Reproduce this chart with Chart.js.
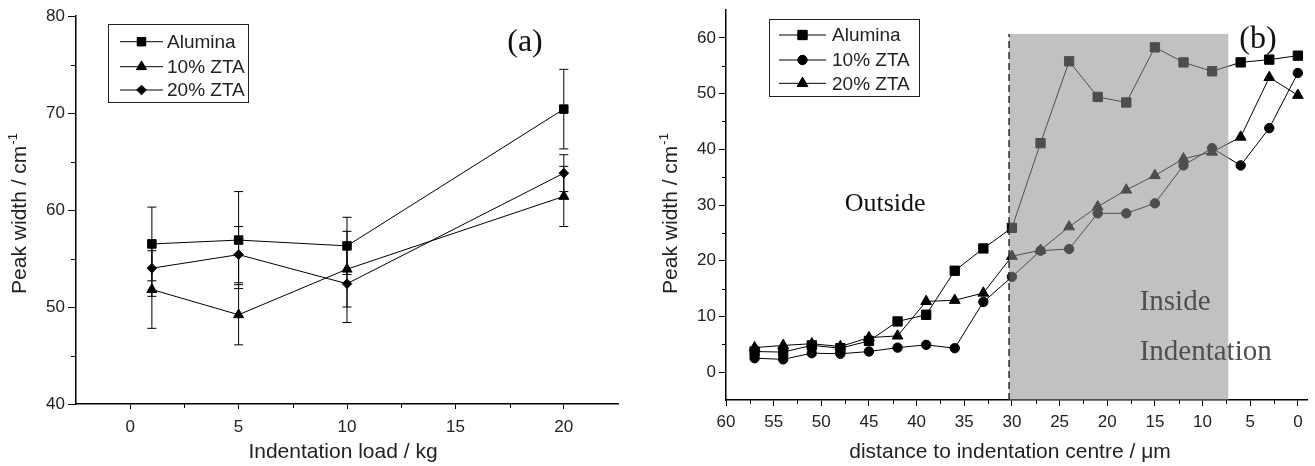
<!DOCTYPE html>
<html>
<head>
<meta charset="utf-8">
<script src="https://cdn.jsdelivr.net/npm/chart.js@4.4.0/dist/chart.umd.min.js"></script>
<style>
  html, body { margin: 0; padding: 0; background: #fff; }
  #wrap { position: relative; width: 1315px; height: 466px; }
  #chartA { position: absolute; left: 0; top: 0; }
  #chartB { position: absolute; left: 650px; top: 0; }
</style>
</head>
<body>
<div id="wrap">
  <canvas id="chartA" width="650" height="466"></canvas>
  <canvas id="chartB" width="665" height="466"></canvas>
</div>
<script>
// ---- panel (a): peak width vs indentation load ----
var loadKg = [1, 5, 10, 20];
var aluminaA = [56.5, 56.9, 56.3, 70.4];
var aluminaAErr = [3.8, 5.0, 2.95, 4.1];
var zta10A = [51.8, 49.2, 53.9, 61.4];
var zta10AErr = [4.0, 3.1, 3.9, 3.1];
var zta20A = [54.0, 55.4, 52.4, 63.8];
var zta20AErr = [2.9, 2.9, 4.0, 1.9];
var xTicksA = [-2.5, 0, 2.5, 5, 7.5, 10, 12.5, 15, 17.5, 20, 22.5];
var yTicksA = [40, 45, 50, 55, 60, 65, 70, 75, 80];

// ---- panel (b): peak width vs distance to indentation centre ----
var distUm = [57, 54, 51, 48, 45, 42, 39, 36, 33, 30, 27, 24, 21, 18, 15, 12, 9, 6, 3, 0];
var aluminaB = [3.7, 3.6, 4.8, 4.3, 5.6, 9.1, 10.3, 18.2, 22.2, 25.9, 41.1, 55.8, 49.4, 48.4, 58.3, 55.6, 54.0, 55.6, 56.1, 56.8];
var zta10B = [2.5, 2.3, 3.4, 3.3, 3.7, 4.4, 4.9, 4.3, 12.6, 17.1, 21.8, 22.1, 28.5, 28.5, 30.3, 37.1, 40.2, 37.1, 43.8, 53.7];
var zta20B = [4.4, 4.8, 5.1, 4.6, 6.2, 6.5, 12.7, 12.9, 14.2, 20.8, 21.9, 26.1, 29.7, 32.7, 35.3, 38.3, 39.5, 42.2, 52.9, 49.7];
var xTicksB = [];
for (var t = 0; t <= 60; t += 2.5) xTicksB.push(t);
var yTicksB = [-5, 0, 5, 10, 15, 20, 25, 30, 35, 40, 45, 50, 55, 60, 65];
var insideFrom = 30.3, insideTo = 7.3, insideTop = 60.7;

var SANS = '"Liberation Sans", Arial, sans-serif';
var SERIF = '"Liberation Serif", "Times New Roman", serif';

function drawMarker(ctx, style, r, x, y) {
  ctx.fillStyle = '#000';
  ctx.strokeStyle = '#000';
  ctx.lineWidth = 1;
  Chart.helpers.drawPoint(ctx, {pointStyle: style, radius: r, rotation: 0, borderWidth: 1}, x, y);
  ctx.fill();
}

function isMajor(v, opts) {
  return v % opts.major === 0 && v >= opts.lo && v <= opts.hi;
}

function makeScale(opts) {
  return {
    type: 'linear',
    min: opts.min,
    max: opts.max,
    reverse: !!opts.reverse,
    minorLength: opts.minorLength,
    afterBuildTicks: function (s) {
      s.ticks = opts.ticks.map(function (v) { return {value: v}; });
    },
    afterFit: function (s) {
      if (opts.width) s.width = opts.width;
      if (opts.height) s.height = opts.height;
      s.paddingLeft = 0; s.paddingRight = 0; s.paddingTop = 0; s.paddingBottom = 0;
    },
    ticks: {
      autoSkip: false,
      maxRotation: 0,
      padding: opts.padding,
      color: '#222',
      font: {family: SANS, size: 17},
      callback: function (v) { return isMajor(v, opts) ? v : ''; }
    },
    grid: {
      drawOnChartArea: false,
      drawTicks: true,
      tickLength: opts.tickLength,
      tickColor: function (c) {
        return c.tick && isMajor(c.tick.value, opts) ? '#000' : 'rgba(0,0,0,0)';
      },
      color: '#000'
    },
    border: {color: '#000', width: 1.5}
  };
}

// shorter minor ticks
var minorTickPlugin = {
  id: 'minorTicks',
  afterDraw: function (chart) {
    var ctx = chart.ctx;
    var area = chart.chartArea;
    ctx.save();
    ctx.strokeStyle = '#000';
    ctx.lineWidth = 1;
    ['x', 'y'].forEach(function (id) {
      var s = chart.scales[id];
      var len = s.options.minorLength;
      s.ticks.forEach(function (tk) {
        if (tk.label !== '') return;
        var p = Math.round(s.getPixelForValue(tk.value)) + 0.5;
        ctx.beginPath();
        if (id === 'x') {
          if (p < area.left + 1 || p > area.right - 1) return;
          ctx.moveTo(p, area.bottom);
          ctx.lineTo(p, area.bottom + len);
        } else {
          if (p > area.bottom - 1 || p < area.top + 1) return;
          ctx.moveTo(area.left, p);
          ctx.lineTo(area.left - len, p);
        }
        ctx.stroke();
      });
    });
    ctx.restore();
  }
};

function lineSet(label, data, style, r) {
  return {
    label: label,
    data: data,
    showLine: true,
    borderColor: '#000',
    backgroundColor: '#000',
    borderWidth: 1,
    pointStyle: style,
    pointRadius: r,
    pointHoverRadius: r,
    pointBackgroundColor: '#000',
    pointBorderColor: '#000',
    pointBorderWidth: 1,
    tension: 0,
    fill: false
  };
}

function toXY(xs, ys) {
  return xs.map(function (x, i) { return {x: x, y: ys[i]}; });
}

function titlesPlugin(xText, xCenter, yCenterX, yCenterY) {
  return {
    id: 'titles',
    afterDraw: function (chart) {
      var ctx = chart.ctx;
      ctx.save();
      ctx.fillStyle = '#222';
      ctx.textBaseline = 'middle';
      ctx.textAlign = 'center';
      ctx.font = '21px ' + SANS;
      ctx.fillText(xText, xCenter, 452);

      // y title with superscript
      var main = 'Peak width / cm';
      var sup = '-1';
      ctx.font = '21px ' + SANS;
      var wMain = ctx.measureText(main).width;
      ctx.font = '13px ' + SANS;
      var wSup = ctx.measureText(sup).width;
      var total = wMain + wSup;
      ctx.translate(yCenterX, yCenterY);
      ctx.rotate(-Math.PI / 2);
      ctx.textAlign = 'left';
      ctx.font = '21px ' + SANS;
      ctx.fillText(main, -total / 2, 0);
      ctx.font = '13px ' + SANS;
      ctx.fillText(sup, -total / 2 + wMain + 1, -7);
      ctx.restore();
    }
  };
}

function legendPlugin(box, rows) {
  return {
    id: 'boxLegend',
    afterDraw: function (chart) {
      var ctx = chart.ctx;
      ctx.save();
      ctx.strokeStyle = '#222';
      ctx.lineWidth = 1;
      ctx.strokeRect(box.x + 0.5, box.y + 0.5, box.w, box.h);
      rows.forEach(function (r) {
        ctx.beginPath();
        ctx.strokeStyle = '#000';
        ctx.lineWidth = 1;
        ctx.moveTo(box.lineFrom, r.y);
        ctx.lineTo(box.lineTo, r.y);
        ctx.stroke();
        drawMarker(ctx, r.style, r.radius, (box.lineFrom + box.lineTo) / 2, r.y);
        ctx.fillStyle = '#222';
        ctx.font = '19px ' + SANS;
        ctx.textAlign = 'left';
        ctx.textBaseline = 'middle';
        ctx.fillText(r.label, box.textX, r.y + 1);
      });
      ctx.restore();
    }
  };
}

var errorBarPlugin = {
  id: 'errorBars',
  beforeDatasetsDraw: function (chart) {
    var ctx = chart.ctx;
    var ys = chart.scales.y;
    ctx.save();
    ctx.strokeStyle = '#000';
    ctx.lineWidth = 1;
    chart.data.datasets.forEach(function (ds, i) {
      var meta = chart.getDatasetMeta(i);
      ds.errors.forEach(function (e, j) {
        var x = meta.data[j].x;
        var v = ds.data[j].y;
        var top = ys.getPixelForValue(v + e);
        var bot = ys.getPixelForValue(v - e);
        ctx.beginPath();
        ctx.moveTo(x, top); ctx.lineTo(x, bot);
        ctx.moveTo(x - 4.5, top); ctx.lineTo(x + 4.5, top);
        ctx.moveTo(x - 4.5, bot); ctx.lineTo(x + 4.5, bot);
        ctx.stroke();
      });
    });
    ctx.restore();
  }
};

var panelLabelPlugin = function (text, x, y) {
  return {
    id: 'panelLabel',
    afterDraw: function (chart) {
      var ctx = chart.ctx;
      ctx.save();
      ctx.fillStyle = '#111';
      ctx.font = '32px ' + SERIF;
      ctx.textAlign = 'center';
      ctx.textBaseline = 'middle';
      ctx.fillText(text, x, y);
      ctx.restore();
    }
  };
};

var insidePlugin = {
  id: 'insideBox',
  afterDatasetsDraw: function (chart) {
    var ctx = chart.ctx;
    var xs = chart.scales.x, ys = chart.scales.y;
    var x0 = xs.getPixelForValue(insideFrom);
    var x1 = xs.getPixelForValue(insideTo);
    var yTop = ys.getPixelForValue(insideTop);
    var yBot = chart.chartArea.bottom;
    ctx.save();
    ctx.fillStyle = 'rgba(141,142,144,0.55)';
    ctx.fillRect(x0, yTop, x1 - x0, yBot - yTop);
    ctx.strokeStyle = '#333';
    ctx.lineWidth = 1.6;
    ctx.setLineDash([7, 4]);
    ctx.beginPath();
    ctx.moveTo(x0, yBot);
    ctx.lineTo(x0, yTop);
    ctx.stroke();
    ctx.setLineDash([]);

    ctx.font = '26px ' + SERIF;
    ctx.fillStyle = '#111';
    ctx.textAlign = 'center';
    ctx.textBaseline = 'middle';
    ctx.fillText('Outside', xs.getPixelForValue(43.3), ys.getPixelForValue(30.1));

    ctx.font = '29px ' + SERIF;
    ctx.fillStyle = '#4f4f4f';
    ctx.textAlign = 'left';
    ctx.fillText('Inside', xs.getPixelForValue(16.6), ys.getPixelForValue(12.6));
    ctx.fillText('Indentation', xs.getPixelForValue(16.6), ys.getPixelForValue(3.5));
    ctx.restore();
  }
};

// ---- chart (a) ----
var dsA = [
  lineSet('Alumina', toXY(loadKg, aluminaA), 'rect', 6),
  lineSet('10% ZTA', toXY(loadKg, zta10A), 'triangle', 5.8),
  lineSet('20% ZTA', toXY(loadKg, zta20A), 'rectRot', 4.8)
];
dsA[0].errors = aluminaAErr;
dsA[1].errors = zta10AErr;
dsA[2].errors = zta20AErr;

new Chart(document.getElementById('chartA'), {
  type: 'scatter',
  data: {datasets: dsA},
  options: {
    responsive: false,
    animation: false,
    layout: {padding: {left: 0, top: 16, right: 32, bottom: 0}},
    plugins: {legend: {display: false}, tooltip: {enabled: false}},
    scales: {
      x: makeScale({min: -2.5, max: 22.5, ticks: xTicksA, major: 5, lo: 0, hi: 20, height: 62, tickLength: 5, minorLength: 4, padding: 8}),
      y: makeScale({min: 40, max: 80, ticks: yTicksA, major: 10, lo: 40, hi: 80, width: 76, tickLength: 8, minorLength: 5, padding: 3})
    }
  },
  plugins: [
    errorBarPlugin,
    minorTickPlugin,
    titlesPlugin('Indentation load / kg', 343, 20, 214),
    legendPlugin({x: 108, y: 24, w: 140, h: 78, lineFrom: 120, lineTo: 163, textX: 167}, [
      {y: 41.7, label: 'Alumina', style: 'rect', radius: 6},
      {y: 66.7, label: '10% ZTA', style: 'triangle', radius: 5.8},
      {y: 90, label: '20% ZTA', style: 'rectRot', radius: 4.8}
    ]),
    panelLabelPlugin('(a)', 525, 43)
  ]
});

// ---- chart (b) ----
var dsB = [
  lineSet('Alumina', toXY(distUm, aluminaB), 'rect', 6.6),
  lineSet('10% ZTA', toXY(distUm, zta10B), 'circle', 4.7),
  lineSet('20% ZTA', toXY(distUm, zta20B), 'triangle', 6.2)
];

new Chart(document.getElementById('chartB'), {
  type: 'scatter',
  data: {datasets: dsB},
  options: {
    responsive: false,
    animation: false,
    layout: {padding: {left: 0, top: 10, right: 7, bottom: 0}},
    plugins: {legend: {display: false}, tooltip: {enabled: false}},
    scales: {
      x: makeScale({min: -1, max: 60, reverse: true, ticks: xTicksB, major: 5, lo: 0, hi: 60, height: 66, tickLength: 6, minorLength: 4, padding: 6}),
      y: makeScale({min: -5, max: 65, ticks: yTicksB, major: 10, lo: 0, hi: 60, width: 76, tickLength: 7, minorLength: 4, padding: 3})
    }
  },
  plugins: [
    insidePlugin,
    minorTickPlugin,
    titlesPlugin('distance to indentation centre / \u03bcm', 360, 21, 214),
    legendPlugin({x: 119, y: 19, w: 150, h: 77, lineFrom: 129, lineTo: 176, textX: 182}, [
      {y: 35, label: 'Alumina', style: 'rect', radius: 6.6},
      {y: 60, label: '10% ZTA', style: 'circle', radius: 4.7},
      {y: 83.3, label: '20% ZTA', style: 'triangle', radius: 6.2}
    ]),
    panelLabelPlugin('(b)', 608, 40)
  ]
});
</script>
</body>
</html>
